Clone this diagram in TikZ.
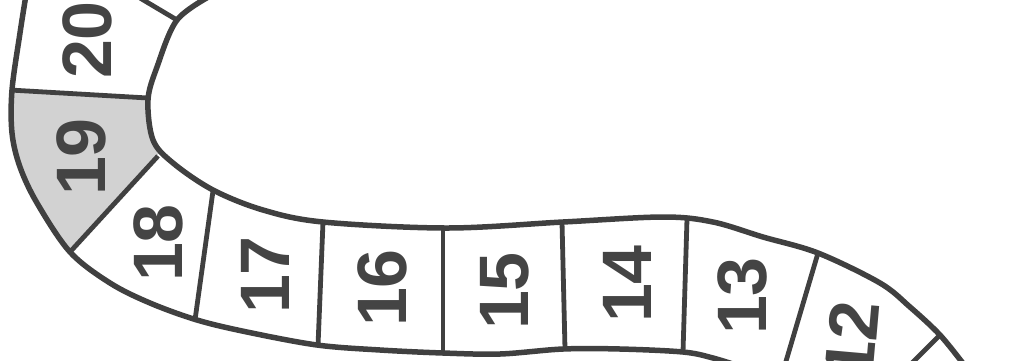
\documentclass[tikz,border=0pt]{standalone}
\usepackage{fontspec}
\setmainfont{Liberation Sans}
\usepackage{xcolor}
\definecolor{trackgray}{RGB}{64, 64, 64}
\definecolor{numgray}{RGB}{68, 68, 68}
\definecolor{cellgray}{RGB}{210, 210, 210}

\tikzset{
  track/.style={draw=trackgray, line width=5.5pt, line cap=round, line join=round},
  divider/.style={draw=trackgray, line width=4.8pt},
  num/.style={font=\fontsize{70}{70}\selectfont\bfseries, text=numgray, inner sep=0pt, rotate=90}
}

\begin{document}
\begin{tikzpicture}[x=1pt, y=-1pt]

% 画布 1033 x 360
\useasboundingbox (0,0) rectangle (1033,360);
\clip (0,0) rectangle (1033,360);

% 第19格（灰色）
\fill[cellgray] (10,90) -- (148,98) -- (148,120) -- (153,140) -- (160,152)
  -- (70,252) -- (55,232) -- (37,203) -- (20,167) -- (12,133) -- (11,110) -- cycle;

% 外侧边界（左、下）
\draw[track] plot[smooth, tension=0.55] coordinates {
  (26,-5) (20,33) (12,90) (12,133) (20,167) (37,203) (70,252) (110,283)
  (150,303) (197,320) (247,332) (317,345) (380,350) (443,353) (500,354)
  (563,349) (620,349) (683,352) (713,358) (745,368)};

% 内侧边界（右、上）
\draw[track] plot[smooth, tension=0.55] coordinates {
  (212,-5) (177,20) (157,67) (148,100) (153,140) (173,163) (213,190)
  (263,210) (323,222) (447,228) (563,222) (663,217) (713,222) (763,237)
  (818,253) (880,283) (910,307) (940,335) (965,366)};

% 格子分隔线
\draw[divider] (140,-2) -- (177,20);
\draw[divider] (10,90) -- (148,98);
\draw[divider] (70,252) -- (158,156);
\draw[divider] (213,191) -- (195,320);
\draw[divider] (323,222) -- (318,346);
\draw[divider] (443,228) -- (443,353);
\draw[divider] (562,222) -- (565,349);
\draw[divider] (687,219) -- (683,352);
\draw[divider] (818,253) -- (784,368);
\draw[divider] (940,335) -- (910,365);

% 格子编号
\node[num] (c20) at (87,40) {20};
\node[num] (c19) at (81,157) {19};
\node[num] (c18) at (158,243) {18};
\node[num] (c17) at (265,275) {17};
\node[num] (c16) at (382,288) {16};
\node[num] (c15) at (505,291) {15};
\node[num] (c14) at (627,284) {14};
\node[num] (c13) at (742,296) {13};
\node[num, rotate=-5] (c12) at (852,340) {12};

\end{tikzpicture}
\end{document}
